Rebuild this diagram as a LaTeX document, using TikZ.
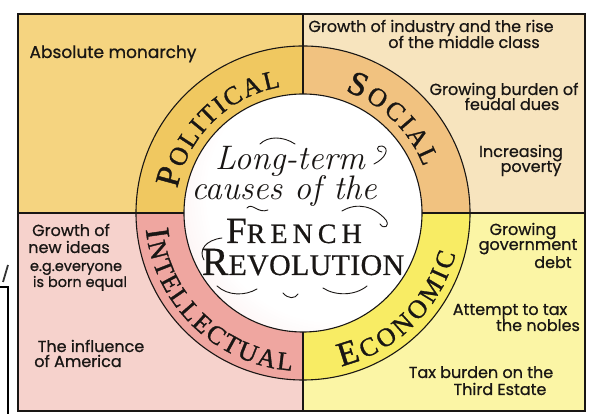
\documentclass[tikz,border=0pt]{standalone}
\usepackage{fontspec}
\newfontfamily\descfont{Poppins}[FakeBold=0.8]
\newfontfamily\capsfont{Liberation Serif}[FakeBold=0.6]
\newfontfamily\ringfont{Liberation Serif}[FakeBold=1.2]
\usetikzlibrary{decorations.text}
\definecolor{bgTL}{RGB}{245,212,128}
\definecolor{bgTR}{RGB}{247,228,190}
\definecolor{bgBL}{RGB}{246,210,204}
\definecolor{bgBR}{RGB}{251,245,165}
\definecolor{rgTL}{RGB}{240,200,96}
\definecolor{rgTR}{RGB}{241,194,128}
\definecolor{rgBL}{RGB}{239,166,160}
\definecolor{rgBR}{RGB}{248,236,100}
\definecolor{pinkc}{RGB}{240,180,180}
\definecolor{inkc}{RGB}{25,22,20}
\pgfdeclareradialshading{innerglow}{\pgfpoint{0bp}{0bp}}{color(0bp)=(white); color(18bp)=(white); color(50bp)=(pinkc)}
\newcommand\ringbig{\ringfont\fontsize{34}{34}\selectfont}
\newcommand\ringsmall{\ringfont\fontsize{26}{26}\selectfont}
\tikzset{
  lineink/.style={draw=inkc, line width=1.1pt},
  desc/.style={font=\descfont\fontsize{16}{18}\selectfont, text=inkc, inner sep=0pt, anchor=base},
  descbig/.style={desc, font=\descfont\fontsize{17}{19}\selectfont},
  descsmall/.style={desc, font=\descfont\fontsize{14.5}{16}\selectfont},
  scripttext/.style={font=\itshape\fontsize{34}{34}\selectfont\addfontfeature{LetterSpace=7}, text=inkc, inner sep=0pt, anchor=base},
  capstext/.style={text=inkc, inner sep=0pt, anchor=base},
  flourish/.style={draw=inkc, line width=0.9pt, line cap=round},
}
\begin{document}
\begin{tikzpicture}[x=1pt,y=1pt]
\useasboundingbox (0,0) rectangle (589,414);
\fill[white] (0,0) rectangle (589,414);
\coordinate (C) at (303,201);
% quadrant backgrounds
\fill[bgTL] (18,201) rectangle (303,400);
\fill[bgTR] (303,201) rectangle (585,400);
\fill[bgBL] (18,3) rectangle (303,201);
\fill[bgBR] (303,3) rectangle (585,201);
% ring sectors
\fill[rgTL] (C) -- ++(90:167) arc (90:180:167) -- cycle;
\fill[rgTR] (C) -- ++(0:167) arc (0:90:167) -- cycle;
\fill[rgBL] (C) -- ++(180:167) arc (180:270:167) -- cycle;
\fill[rgBR] (C) -- ++(270:167) arc (270:360:167) -- cycle;
% inner circle
\begin{scope}
  \clip (C) circle (119);
  \shade[shading=innerglow] (C) ++(30,18) circle (175);
\end{scope}
% lines
\draw[lineink] (18,3) rectangle (585,400);
\draw[lineink] (C) circle (167);
\draw[lineink] (C) circle (119);
\draw[lineink] (303,400) -- (303,320);
\draw[lineink] (303,3) -- (303,82);
\draw[lineink] (18,201) -- (184,201);
\draw[lineink] (422,201) -- (585,201);
% ring labels
\path[decorate, decoration={text along path, text align=fit to path, text color=inkc,
  text={|\ringbig|P|\ringsmall|OLITICAL}}] (C) ++(169:128) arc (169:100:128);
\path[decorate, decoration={text along path, text align=fit to path, text color=inkc,
  text={|\ringbig|S|\ringsmall|OCIAL}}] (C) ++(71:129) arc (71:21:129);
\path[decorate, decoration={text along path, text align=fit to path, text color=inkc,
  text={|\ringbig|I|\ringsmall|NTELLECTUAL}}] (C) ++(186:158) arc (186:266:158);
\path[decorate, decoration={text along path, text align=fit to path, text color=inkc,
  text={|\ringbig|E|\ringsmall|CONOMIC}}] (C) ++(284:158) arc (284:345:158);
% centre title
\node[scripttext] (lt) at (290,244) {Long-term};
\node[scripttext] (cs) at (284,214) {causes of the};
\node[capstext] (fr) at (294,171) {\capsfont\addfontfeature{LetterSpace=18}{\fontsize{37}{37}\selectfont F}\fontsize{28}{28}\selectfont RENCH};
\node[capstext] (rv) at (303,139) {\capsfont\addfontfeature{LetterSpace=1}{\fontsize{40}{40}\selectfont R}\fontsize{30}{30}\selectfont EVOLUTION};
% flourishes
\draw[flourish] (260,270) .. controls (268,278) and (283,278) .. (295,270);
\draw[flourish] (374,250) .. controls (386,256) and (390,266) .. (382,268) .. controls (376,269) and (376,262) .. (382,262);
\draw[flourish] (247,206) .. controls (252,212) and (258,200) .. (268,204);
\draw[flourish] (342,203) .. controls (357,212) and (374,208) .. (386,194) .. controls (390,188) and (384,184) .. (380,190);
\draw[flourish] (222,176) .. controls (206,174) and (198,164) .. (204,154);
\draw[flourish] (217,128) .. controls (228,118) and (245,118) .. (257,125);
\draw[flourish] (323,126) .. controls (335,118) and (355,118) .. (367,128);
\draw[flourish] (283,121) .. controls (288,115) and (295,115) .. (298,120);
% descriptive texts
\node[descbig] (t1) at (113,356) {Absolute monarchy};
\node[desc] (t2) at (431,382) {Growth of industry and the rise};
\node[desc] (t3) at (464,366) {of the middle class};
\node[desc] (t4) at (504,319) {Growing burden of};
\node[desc] (t5) at (512,304) {feudal dues};
\node[desc] (t6) at (521,257) {Increasing};
\node[desc] (t7) at (531,242) {poverty};
\node[desc] (t8) at (523,179) {Growing};
\node[desc] (t9) at (528,164) {government};
\node[desc] (t10) at (553,146) {debt};
\node[desc] (t11) at (510,99) {Attempt to tax};
\node[desc] (t12) at (538,83) {the nobles};
\node[desc] (t13) at (481,36) {Tax burden on the};
\node[desc] (t14) at (500,19) {Third Estate};
\node[desc] (t15) at (71,178) {Growth of};
\node[desc] (t16) at (69,161) {new ideas};
\node[descsmall] (t17) at (76,143) {e.g.everyone};
\node[descsmall] (t18) at (80,127) {is born equal};
\node[desc] (t19) at (91,62) {The influence};
\node[desc] (t20) at (78,47) {of America};
% stray marks at the left edge
\draw[line width=2.2pt, draw=black] (-10,-10) rectangle (8,127);
\draw[line width=1.8pt, draw=black!80] (3,132) -- (8,149);
\end{tikzpicture}
\end{document}
